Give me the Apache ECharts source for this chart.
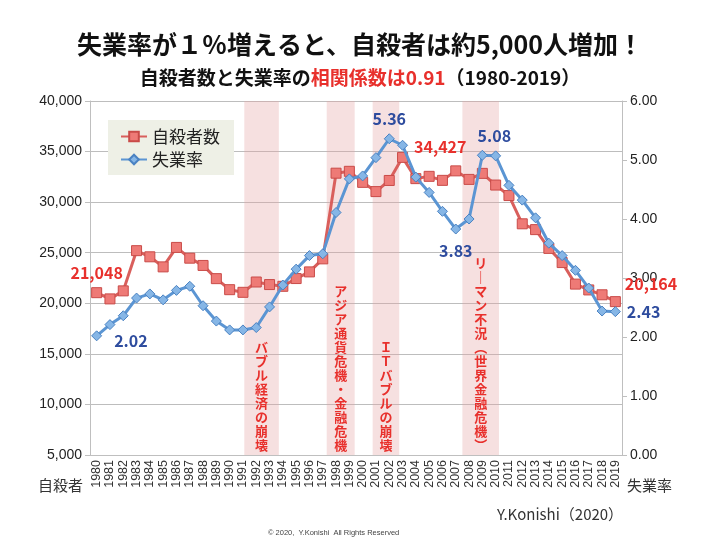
<!DOCTYPE html>
<html>
<head>
<meta charset="utf-8">
<script src="https://cdn.jsdelivr.net/npm/echarts@6/dist/echarts.min.js"></script>
<style>
  html, body { margin: 0; padding: 0; background: #fff; }
  #chart { width: 720px; height: 540px; }
</style>
</head>
<body>
<div id="chart"></div>
<script>
// 年
const years = ['1980', '1981', '1982', '1983', '1984', '1985', '1986', '1987', '1988', '1989',
  '1990', '1991', '1992', '1993', '1994', '1995', '1996', '1997', '1998', '1999',
  '2000', '2001', '2002', '2003', '2004', '2005', '2006', '2007', '2008', '2009',
  '2010', '2011', '2012', '2013', '2014', '2015', '2016', '2017', '2018', '2019'];

// 自殺者数（人）
const suicides = [21048, 20434, 21228, 25202, 24596, 23599, 25524, 24460, 23742, 22436,
  21346, 21084, 22104, 21851, 21679, 22445, 23104, 24391, 32863, 33048,
  31957, 31042, 32143, 34427, 32325, 32552, 32155, 33093, 32249, 32845,
  31690, 30651, 27858, 27283, 25427, 24025, 21897, 21321, 20840, 20164];

// 失業率（%）
const unemployment = [2.02, 2.21, 2.36, 2.66, 2.73, 2.63, 2.79, 2.86, 2.53, 2.27,
  2.12, 2.12, 2.16, 2.51, 2.88, 3.15, 3.38, 3.41, 4.11, 4.68,
  4.73, 5.04, 5.36, 5.25, 4.71, 4.45, 4.13, 3.83, 4.00, 5.08,
  5.07, 4.57, 4.32, 4.02, 3.59, 3.38, 3.13, 2.83, 2.44, 2.43];

// 出来事の期間（年、帯の左端〜右端）
const bandFrom = [1991.6, 1997.8, 2001.25, 2008.0];
const bandTo = [1994.2, 1999.9, 2003.25, 2010.75];
const bandNames = ['バブル経済の崩壊', 'アジア通貨危機・金融危機', 'ＩＴバブルの崩壊', 'リ｜マン不況︵世界金融危機︶'];

const JP = "'Noto Sans CJK JP', 'Noto Sans', sans-serif";
const NUM = "'Liberation Sans', 'Noto Sans CJK JP', sans-serif";
const RED = '#E8302C';
const BLUE = '#2E4C9E';

const fmtComma = v => String(v).replace(/\B(?=(\d{3})+(?!\d))/g, ',');

// 値ラベルを付ける年（index → ラベル設定）
const redLabels = {
  0: { position: 'top', distance: 6 },
  23: { position: 'right', distance: 6, offset: [0, -10] },
  39: { position: 'right', distance: 4, offset: [0, -18] }
};
const blueLabels = {
  0: { position: 'right', distance: 12, offset: [0, 5] },
  22: { position: 'top', distance: 6 },
  27: { position: 'bottom', distance: 8 },
  29: { position: 'top', distance: 6, offset: [12, 0] },
  39: { position: 'right', distance: 6 }
};

function withLabels(values, marks, color, fmt) {
  return values.map((v, i) => marks[i]
    ? { value: v, label: Object.assign({ show: true, color, fontFamily: JP, fontWeight: 'bold', fontSize: 16, formatter: p => fmt(p.value) }, marks[i]) }
    : v);
}

const chart = echarts.init(document.getElementById('chart'));

chart.setOption({
  backgroundColor: '#fff',
  animation: false,
  title: [
    {
      text: '失業率が１％増えると、自殺者は約5,000人増加！',
      left: 'center', top: 27,
      textStyle: { fontFamily: JP, fontSize: 25, fontWeight: 'bold', color: '#111' }
    },
    {
      text: '{b|自殺者数と失業率の}{r|相関係数は0.91}{b|（1980-2019）}',
      left: 'center', top: 63,
      textStyle: {
        rich: {
          b: { fontFamily: JP, fontSize: 19, fontWeight: 'bold', color: '#111' },
          r: { fontFamily: JP, fontSize: 19, fontWeight: 'bold', color: RED }
        }
      }
    }
  ],
  legend: {
    orient: 'vertical',
    left: 108, top: 120,
    backgroundColor: '#EEF0E6',
    padding: [8, 14, 7, 12],
    itemGap: 6,
    itemWidth: 26, itemHeight: 12,
    textStyle: { fontFamily: JP, fontSize: 17, color: '#222' },
    data: ['自殺者数', '失業率']
  },
  grid: { left: 90, right: 98, top: 101, bottom: 85 },
  xAxis: [
    {
      type: 'category',
      data: years,
      boundaryGap: true,
      axisLine: { lineStyle: { color: '#BFBFBF' } },
      axisTick: { interval: 0, lineStyle: { color: '#BFBFBF' } },
      axisLabel: { interval: 0, rotate: 90, fontFamily: NUM, fontSize: 12.5, color: '#333', margin: 5 }
    },
    { type: 'value', min: 1980, max: 2020, show: false }
  ],
  yAxis: [
    {
      type: 'value', min: 5000, max: 40000, interval: 5000,
      axisLine: { show: true, lineStyle: { color: '#BFBFBF' } },
      axisTick: { show: true, length: 5, lineStyle: { color: '#BFBFBF' } },
      splitLine: { lineStyle: { color: '#BDBDBD' } },
      axisLabel: { fontFamily: NUM, fontSize: 14, color: '#222', margin: 8, formatter: v => fmtComma(v) }
    },
    {
      type: 'value', min: 0, max: 6, interval: 1,
      axisLine: { show: true, lineStyle: { color: '#BFBFBF' } },
      axisTick: { show: true, length: 5, lineStyle: { color: '#BFBFBF' } },
      splitLine: { show: false },
      axisLabel: { fontFamily: NUM, fontSize: 14, color: '#222', margin: 8, formatter: v => v.toFixed(2) }
    }
  ],
  series: [
    {
      name: 'events',
      type: 'line',
      xAxisIndex: 1, yAxisIndex: 0,
      data: [],
      silent: true,
      markArea: {
        silent: true,
        itemStyle: { color: 'rgba(228,165,165,0.34)' },
        label: {
          show: true,
          position: 'insideBottom',
          distance: 3,
          color: RED,
          fontFamily: JP,
          fontWeight: 'bold',
          fontSize: 13,
          lineHeight: 14,
          formatter: p => p.name.split('').join('\n')
        },
        data: bandNames.map((n, i) => [{ name: n, xAxis: bandFrom[i] }, { xAxis: bandTo[i] }])
      }
    },
    {
      name: '自殺者数',
      type: 'line',
      yAxisIndex: 0,
      data: withLabels(suicides, redLabels, RED, fmtComma),
      symbol: 'rect',
      symbolSize: 10,
      lineStyle: { color: '#D95F5C', width: 3 },
      itemStyle: { color: '#EE7A76', borderColor: '#C94B48', borderWidth: 1 },
      z: 3
    },
    {
      name: '失業率',
      type: 'line',
      yAxisIndex: 1,
      data: withLabels(unemployment, blueLabels, BLUE, v => v.toFixed(2)),
      symbol: 'diamond',
      symbolSize: 10,
      lineStyle: { color: '#5B95D3', width: 3 },
      itemStyle: { color: '#86B6E6', borderColor: '#4A82C2', borderWidth: 1 },
      z: 4
    }
  ],
  graphic: [
    { type: 'text', left: 38, top: 478, style: { text: '自殺者', fontFamily: JP, fontSize: 15, fill: '#333' } },
    { type: 'text', left: 627, top: 478, style: { text: '失業率', fontFamily: JP, fontSize: 15, fill: '#333' } },
    { type: 'text', left: 497, top: 507, style: { text: 'Y.Konishi（2020）', fontFamily: JP, fontSize: 15, fill: '#333' } },
    { type: 'text', left: 268, top: 529, style: { text: '© 2020,  Y.Konishi  All Rights Reserved', fontFamily: NUM, fontSize: 7.5, fill: '#444' } }
  ]
});
</script>
</body>
</html>
